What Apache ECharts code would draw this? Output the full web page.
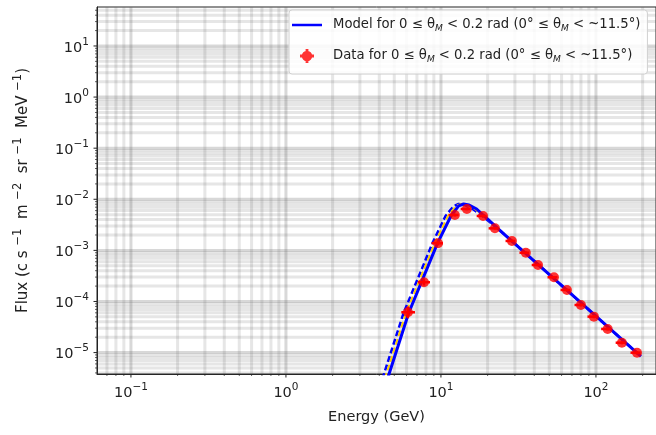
<!DOCTYPE html>
<html><head><meta charset="utf-8">
<script src="https://cdn.jsdelivr.net/npm/echarts@6/dist/echarts.min.js"></script>
<style>html,body{margin:0;padding:0;background:#fff}#c{width:656px;height:435px}</style>
</head><body><div id="c"></div>
<script>
// ---- data ----
const modelE = [4.53, 4.66, 6.19, 9.52, 11.6, 13.0, 14.0, 15.2, 17.0, 18.7, 25, 40, 60, 100, 150, 195];
const modelF = [3.04e-6, 4.08e-6, 5.96e-5, 1.40e-3, 4.71e-3, 7.40e-3, 8.09e-3, 7.73e-3, 6.46e-3, 4.93e-3, 2.21e-3, 6.19e-4, 2.06e-4, 5.16e-5, 1.72e-5, 8.45e-6];
const dashE  = [4.20, 4.32, 5.74, 8.83, 10.7, 12.1, 13.0, 14.2, 16.0, 18.2, 25, 40, 60, 100, 150, 195];
const dashF  = [3.04e-6, 4.08e-6, 5.96e-5, 1.40e-3, 4.71e-3, 7.40e-3, 8.09e-3, 7.73e-3, 6.46e-3, 4.93e-3, 2.21e-3, 6.19e-4, 2.06e-4, 5.16e-5, 1.72e-5, 8.45e-6];
const goldE  = [4.35, 4.48, 5.95, 9.15, 11.1, 12.5, 13.5, 14.7, 16.6, 18.5, 25, 40, 60, 100, 150, 195];
const goldF  = [3.04e-6, 4.08e-6, 5.96e-5, 1.40e-3, 4.71e-3, 7.40e-3, 8.09e-3, 7.73e-3, 6.46e-3, 4.93e-3, 2.21e-3, 6.19e-4, 2.06e-4, 5.16e-5, 1.72e-5, 8.45e-6];

const dataE   = [6.12, 7.77, 9.57, 12.3, 14.7, 18.7, 22.3, 28.7, 35.3, 42.3, 53.6, 65.0, 80.0, 97.0, 119, 147, 184];
const dataF   = [6.15e-5, 2.38e-4, 1.38e-3, 4.93e-3, 6.46e-3, 4.71e-3, 2.70e-3, 1.53e-3, 9.0e-4, 5.18e-4, 2.98e-4, 1.68e-4, 8.55e-5, 5.05e-5, 2.90e-5, 1.56e-5, 9.95e-6];
const dataELo = [5.55, 7.1, 8.7, 11.2, 13.4, 17.0, 20.3, 26.1, 32.1, 38.5, 48.7, 59.1, 72.7, 88.2, 108, 134, 167];
const dataEHi = [6.8, 8.5, 10.3, 13.0, 15.5, 19.7, 23.5, 30.2, 37.1, 44.5, 56.4, 68.4, 84.2, 102, 125, 155, 194];
const dataFLo = [4.7e-5, 2.05e-4, 1.25e-3, 4.6e-3, 6.1e-3, 4.45e-3, 2.55e-3, 1.45e-3, 8.5e-4, 4.9e-4, 2.8e-4, 1.58e-4, 8.0e-5, 4.7e-5, 2.7e-5, 1.45e-5, 9.2e-6];
const dataFHi = [8.0e-5, 2.75e-4, 1.52e-3, 5.25e-3, 6.8e-3, 5.0e-3, 2.85e-3, 1.62e-3, 9.5e-4, 5.5e-4, 3.15e-4, 1.78e-4, 9.1e-5, 5.4e-5, 3.1e-5, 1.67e-5, 1.07e-5];

const xTickExps = [-1, 0, 1, 2];
const yTickExps = [-5, -4, -3, -2, -1, 0, 1];
const xLabel = 'Energy (GeV)';
const yLabel = '{n|Flux (c s }{s|−1}{n|  m }{s|−2}{n|  sr }{s|−1}{n|  MeV }{s|−1}{n|)}';
const legendModel = 'Model for 0 ≤ θ{m|M} < 0.2 rad (0° ≤ θ{m|M} < ~11.5°)';
const legendData  = 'Data for 0 ≤ θ{m|M} < 0.2 rad (0° ≤ θ{m|M} < ~11.5°)';

const xMin = 0.0604, xMax = 244, yMin = 3.81e-6, yMax = 57.9;

// ---- gridline / tick positions (log decades with 2..9 subdivisions) ----
function logGrid(lo, hi, d0, d1) {
  const out = [];
  for (let d = d0; d <= d1; d++) for (let m = 1; m <= 9; m++) {
    const v = m * Math.pow(10, d);
    if (v > lo && v < hi) out.push([v, m === 1 ? 1 : 0]);
  }
  return out;
}
const xGrid = logGrid(xMin, xMax, -2, 2).map(g => [g[0], 1, g[1]]);
const yGrid = logGrid(yMin, yMax, -6, 1).map(g => [1, g[0], g[1]]);

const FONT = 'DejaVu Sans';
const TXT = '#222';
const FS = 14.5, FSS = 10.5;
const gMin = 'rgba(90,90,90,0.15)', gMaj = 'rgba(90,90,90,0.24)';

function supLabel(v, exps) {
  const e = Math.round(Math.log10(v));
  if (exps.indexOf(e) < 0) return '';
  return '{b|10}{s|' + (e < 0 ? '−' + (-e) : e) + '}';
}
const labelRich = {
  b: {fontSize: FS, lineHeight: 19, verticalAlign: 'bottom', fontFamily: FONT, color: TXT},
  s: {fontSize: FSS, lineHeight: 11, verticalAlign: 'top', fontFamily: FONT, color: TXT}
};

const chart = echarts.init(document.getElementById('c'), null, {renderer: 'canvas'});
chart.setOption({
  animation: false,
  backgroundColor: '#fff',
  grid: {left: 97, top: 7, right: 0, bottom: 61, show: true, borderColor: '#222', borderWidth: 1, containLabel: false},
  legend: {
    orient: 'vertical', left: 289, top: 10,
    padding: [7, 7, 10, 3], itemGap: 15, itemWidth: 30, itemHeight: 14,
    backgroundColor: 'rgba(255,255,255,0.85)', borderColor: '#d0d0d0', borderWidth: 1, borderRadius: 3,
    data: [
      {name: 'Model', icon: 'path://M0,0 L30,0 L30,2.5 L0,2.5 Z', itemStyle: {color: '#0000ff'}},
      {name: 'Data', icon: 'path://M1.5,6 A4.5,4.5 0 1,1 10.5,6 A4.5,4.5 0 1,1 1.5,6 Z M0,4.8 L12,4.8 L12,7.2 L0,7.2 Z M4.8,0 L7.2,0 L7.2,12 L4.8,12 Z', itemStyle: {color: '#ff0000'}}
    ],
    formatter: n => n === 'Model' ? legendModel : legendData,
    textStyle: {fontFamily: FONT, fontSize: 13.2, color: TXT, lineHeight: 16, padding: [0, 0, 0, 6],
      rich: {m: {fontSize: 9, lineHeight: 9, fontStyle: 'italic', verticalAlign: 'bottom', fontFamily: FONT, color: TXT}}}
  },
  xAxis: {
    type: 'log', logBase: 10, min: xMin, max: xMax,
    axisLine: {show: true, lineStyle: {color: '#222', width: 1}},
    axisTick: {show: false}, splitLine: {show: false},
    axisLabel: {showMinLabel: false, showMaxLabel: false, margin: 8,
      formatter: v => supLabel(v, xTickExps), rich: labelRich},
    name: xLabel, nameLocation: 'middle', nameGap: 36,
    nameTextStyle: {fontFamily: FONT, fontSize: FS, color: TXT}
  },
  yAxis: {
    type: 'log', logBase: 10, min: yMin, max: yMax,
    axisLine: {show: true, lineStyle: {color: '#222', width: 1}},
    axisTick: {show: false}, splitLine: {show: false},
    axisLabel: {showMinLabel: false, showMaxLabel: false, margin: 8,
      formatter: v => supLabel(v, yTickExps), rich: labelRich},
    name: yLabel, nameLocation: 'middle', nameGap: 66, nameRotate: 90,
    nameTextStyle: {fontFamily: FONT, color: TXT, rich: {
      n: {fontSize: 15, lineHeight: 19, verticalAlign: 'bottom', fontFamily: FONT, color: TXT},
      s: {fontSize: 11.5, lineHeight: 12, verticalAlign: 'top', fontFamily: FONT, color: TXT}}}
  },
  series: [
    {type: 'custom', name: 'xgrid', silent: true, clip: false, z: 1, data: xGrid,
      renderItem: (params, api) => {
        const cs = params.coordSys;
        const x = api.coord([api.value(0), 1])[0];
        const major = api.value(2) === 1;
        const yb = cs.y + cs.height;
        return {type: 'group', children: [
          {type: 'line', shape: {x1: x, y1: cs.y, x2: x, y2: yb}, style: {stroke: major ? gMaj : gMin, lineWidth: 3}},
          {type: 'line', shape: {x1: x, y1: yb, x2: x, y2: yb + (major ? 3.5 : 2)}, style: {stroke: '#222', lineWidth: major ? 1 : 0.7}}
        ]};
      }},
    {type: 'custom', name: 'ygrid', silent: true, clip: false, z: 1, data: yGrid,
      renderItem: (params, api) => {
        const cs = params.coordSys;
        const y = api.coord([1, api.value(1)])[1];
        const major = api.value(2) === 1;
        return {type: 'group', children: [
          {type: 'line', shape: {x1: cs.x, y1: y, x2: cs.x + cs.width, y2: y}, style: {stroke: major ? gMaj : gMin, lineWidth: 3}},
          {type: 'line', shape: {x1: cs.x, y1: y, x2: cs.x - (major ? 3.5 : 2), y2: y}, style: {stroke: '#222', lineWidth: major ? 1 : 0.7}}
        ]};
      }},
    {type: 'line', name: 'ModelAlt', symbol: 'none', z: 3, clip: true,
      data: dashE.map((e, i) => [e, dashF[i]]),
      lineStyle: {color: '#0000ff', width: 2.5, type: [6, 3]}},
    {type: 'line', name: 'ModelGold', symbol: 'none', z: 4, clip: true,
      data: goldE.map((e, i) => [e, goldF[i]]),
      lineStyle: {color: '#ffd000', width: 2, type: [6, 3]}},
    {type: 'line', name: 'Model', symbol: 'none', z: 5, clip: true,
      data: modelE.map((e, i) => [e, modelF[i]]),
      itemStyle: {color: '#0000ff'},
      lineStyle: {color: '#0000ff', width: 3}},
    {type: 'custom', name: 'DataErr', z: 6, clip: true,
      data: dataE.map((e, i) => [e, dataF[i], dataELo[i], dataEHi[i], dataFLo[i], dataFHi[i]]),
      renderItem: (params, api) => {
        const a = api.coord([api.value(2), api.value(1)]);
        const b = api.coord([api.value(3), api.value(1)]);
        const c = api.coord([api.value(0), api.value(4)]);
        const d = api.coord([api.value(0), api.value(5)]);
        return {type: 'group', children: [
          {type: 'line', shape: {x1: a[0], y1: a[1], x2: b[0], y2: b[1]}, style: {stroke: '#ff0000', lineWidth: 2.5}},
          {type: 'line', shape: {x1: c[0], y1: c[1], x2: d[0], y2: d[1]}, style: {stroke: '#ff0000', lineWidth: 2.5}}
        ]};
      }},
    {type: 'scatter', name: 'Data', z: 7, symbol: 'circle', symbolSize: 10,
      data: dataE.map((e, i) => [e, dataF[i]]),
      itemStyle: {color: '#ff0000'}}
  ]
});
</script>
</body></html>
